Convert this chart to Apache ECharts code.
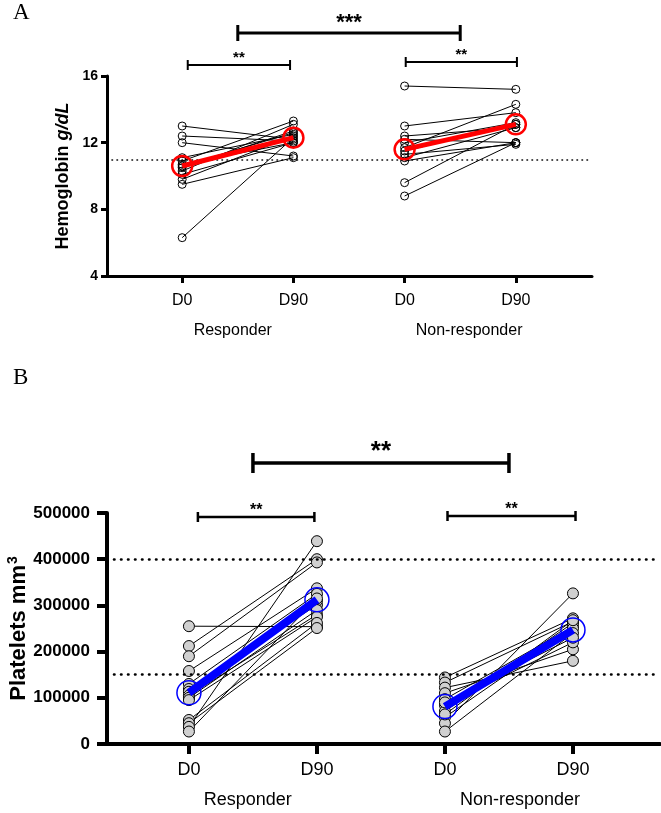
<!DOCTYPE html>
<html><head><meta charset="utf-8">
<script src="https://cdn.jsdelivr.net/npm/echarts@6/dist/echarts.min.js"></script>
<style>html,body{margin:0;padding:0;background:#fff}#c{width:661px;height:813px}</style>
</head><body><div id="c"></div>
<script>
// ---------- data ----------
const tickLabels = ['D0', 'D90', 'D0', 'D90'];
const groupLabels = ['Responder', 'Non-responder'];
const panelLetters = ['A', 'B'];

// Panel A: Hemoglobin g/dL (each index = one patient, D0 -> D90)
const hbRespD0  = [13.0, 12.4, 12.0, 11.1, 10.9, 10.7, 10.5, 10.3, 10.1, 9.8, 9.5, 6.3, 10.6];
const hbRespD90 = [12.2, 12.1, 11.2, 12.5, 13.3, 12.0, 12.7, 13.1, 12.0, 12.4, 11.1, 12.3, 12.6];
const hbNonD0   = [15.4, 13.0, 12.4, 12.2, 12.0, 11.7, 11.5, 11.3, 11.1, 10.9, 9.6, 8.8];
const hbNonD90  = [15.2, 13.8, 12.9, 12.0, 13.2, 14.3, 13.1, 11.9, 12.9, 12.0, 13.1, 12.0];
const hbMeanResp = [10.6, 12.3];
const hbMeanNon  = [11.6, 13.1];
const hbReference = [11];
const hbAxis = { min: 4, max: 16, interval: 4 };

// Panel B: Platelets mm3
const pltRespD0  = [255000, 212000, 190000, 158000, 130000, 119000, 113000, 105000, 100000, 95000, 52000, 45000, 37000, 27000];
const pltRespD90 = [254000, 400000, 393000, 337000, 325000, 301000, 310000, 280000, 290000, 275000, 262000, 251000, 439000, 315000];
const pltNonD0   = [144000, 133000, 122000, 110000, 97000, 84000, 71000, 58000, 45000, 27000, 64000, 90000];
const pltNonD90  = [272000, 265000, 180000, 205000, 254000, 220000, 262000, 250000, 326000, 240000, 268000, 230000];
const pltMeanResp = [111000, 312000];
const pltMeanNon  = [81000, 247000];
const pltReference = [150000, 400000];
const pltAxis = { min: 0, max: 500000, interval: 100000 };

// significance annotations: [fromPosition, toPosition, label]
const sigA = [[0.05, 0.97, '**'], [2.01, 3.01, '**'], [0.5, 2.5, '***']];
const sigB = [[0.07, 0.98, '**'], [2.02, 3.02, '**'], [0.5, 2.5, '**']];

// ---------- layout ----------
const FONT = '"Liberation Sans", Arial, sans-serif';
const L = {
  A: { grid: { left: 107, top: 76, width: 485, height: 200, outerBoundsMode: 'none', containLabel: false }, xMin: -0.676, xMax: 3.685,
       groupPos: [0.455, 2.58], tickFont: 16, yFont: 14, axisW: 3, tickLen: 7, tickMargin: 17, groupMargin: 47,
       sigY: [65, 62, 33], sigCap: [5, 5, 8], sigW: [2, 2, 3], sigFont: [15, 15, 22], sigTextDy: [0, 0, 1] },
  B: { grid: { left: 107, top: 513, width: 553, height: 231, outerBoundsMode: 'none', containLabel: false }, xMin: -0.64, xMax: 3.68,
       groupPos: [0.46, 2.586], tickFont: 18, yFont: 17, axisW: 4, tickLen: 10, tickMargin: 17, groupMargin: 47,
       sigY: [517, 516, 463], sigCap: [5, 5, 10], sigW: [2.5, 2.5, 3.5], sigFont: [16, 16, 26], sigTextDy: [2, 2, 2] }
};

const chart = echarts.init(document.getElementById('c'), null, { renderer: 'canvas' });

function pairSeries(d0, d90, x0, axisIdx, ptStyle, refLine) {
  return d0.map((v, i) => {
    const s = {
      type: 'line', xAxisIndex: axisIdx * 2, yAxisIndex: axisIdx,
      data: [[x0, v], [x0 + 1, d90[i]]],
      symbol: 'circle', symbolSize: ptStyle.size, showSymbol: true,
      itemStyle: { color: ptStyle.fill, borderColor: '#000', borderWidth: ptStyle.border },
      lineStyle: { color: '#000', width: 1 },
      emphasis: { disabled: true }, silent: true, animation: false, z: 2
    };
    if (refLine && i === 0) {
      s.markLine = {
        silent: true, symbol: 'none', label: { show: false }, animation: false,
        lineStyle: refLine, emphasis: { disabled: true },
        data: refLine.values.map(y => ({ yAxis: y }))
      };
    }
    return s;
  });
}
function meanSeries(m, x0, axisIdx, st) {
  return {
    type: 'line', xAxisIndex: axisIdx * 2, yAxisIndex: axisIdx,
    data: [[x0, m[0]], [x0 + 1, m[1]]],
    symbol: 'circle', symbolSize: st.size, showSymbol: true,
    itemStyle: { color: 'rgba(0,0,0,0)', borderColor: st.color, borderWidth: st.border },
    lineStyle: { color: st.color, width: st.width },
    emphasis: { disabled: true }, silent: true, animation: false, z: 5
  };
}

function xAxes(P, gi) {
  return [
    { gridIndex: gi, type: 'value', min: P.xMin, max: P.xMax,
      axisLine: { show: true, onZero: false, lineStyle: { color: '#000', width: P.axisW } },
      axisTick: { show: true, customValues: [0, 1, 2, 3], length: P.tickLen, lineStyle: { color: '#000', width: P.axisW } },
      axisLabel: { customValues: [0, 1, 2, 3], formatter: v => tickLabels[Math.round(v)], color: '#000',
                   fontFamily: FONT, fontSize: P.tickFont, margin: P.tickMargin },
      splitLine: { show: false } },
    { gridIndex: gi, type: 'value', min: P.xMin, max: P.xMax, position: 'bottom',
      axisLine: { show: false, onZero: false }, axisTick: { show: false }, splitLine: { show: false },
      axisLabel: { customValues: P.groupPos, formatter: v => groupLabels[v < 1.5 ? 0 : 1], color: '#000',
                   fontFamily: FONT, fontSize: P.tickFont, margin: P.groupMargin } }
  ];
}

const option = {
  backgroundColor: '#fff',
  animation: false,
  grid: [ Object.assign({}, L.A.grid), Object.assign({}, L.B.grid) ],
  xAxis: [...xAxes(L.A, 0), ...xAxes(L.B, 1)],
  yAxis: [
    { gridIndex: 0, type: 'value', min: hbAxis.min, max: hbAxis.max, interval: hbAxis.interval,
      axisLine: { show: true, onZero: false, lineStyle: { color: '#000', width: L.A.axisW } },
      axisTick: { show: true, length: 6, lineStyle: { color: '#000', width: L.A.axisW } },
      axisLabel: { color: '#000', fontFamily: FONT, fontWeight: 'bold', fontSize: L.A.yFont, margin: 9 },
      splitLine: { show: false },
      name: '{b|Hemoglobin }{i|g/dL}', nameLocation: 'middle', nameGap: 35, nameRotate: 90, nameMoveOverlap: false,
      nameTextStyle: { rich: {
        b: { fontFamily: FONT, fontWeight: 'bold', fontSize: 18, color: '#000' },
        i: { fontFamily: FONT, fontWeight: 'bold', fontStyle: 'italic', fontSize: 18, color: '#000' } } } },
    { gridIndex: 1, type: 'value', min: pltAxis.min, max: pltAxis.max, interval: pltAxis.interval,
      axisLine: { show: true, onZero: false, lineStyle: { color: '#000', width: L.B.axisW } },
      axisTick: { show: true, length: 10, lineStyle: { color: '#000', width: L.B.axisW } },
      axisLabel: { color: '#000', fontFamily: FONT, fontWeight: 'bold', fontSize: L.B.yFont, margin: 17,
                   formatter: v => String(v) },
      splitLine: { show: false },
      name: '{b|Platelets mm}{s|3}', nameLocation: 'middle', nameGap: 75, nameRotate: 90, nameMoveOverlap: false,
      nameTextStyle: { rich: {
        b: { fontFamily: FONT, fontWeight: 'bold', fontSize: 22, color: '#000' },
        s: { fontFamily: FONT, fontWeight: 'bold', fontSize: 14, color: '#000', verticalAlign: 'top', padding: [0, 0, 12, 1] } } } }
  ],
  series: [
    ...pairSeries(hbRespD0, hbRespD90, 0, 0, { size: 8, fill: 'rgba(255,255,255,0)', border: 1 },
      { values: hbReference, color: '#000', width: 1.6, type: [0.5, 4.5], cap: 'round' }),
    ...pairSeries(hbNonD0, hbNonD90, 2, 0, { size: 8, fill: 'rgba(255,255,255,0)', border: 1 }),
    meanSeries(hbMeanResp, 0, 0, { color: '#ff0000', size: 20, border: 2.5, width: 5 }),
    meanSeries(hbMeanNon, 2, 0, { color: '#ff0000', size: 20, border: 2.5, width: 5 }),
    ...pairSeries(pltRespD0, pltRespD90, 0, 1, { size: 11, fill: '#d0d0d0', border: 1 },
      { values: pltReference, color: '#000', width: 2.6, type: [0.5, 6.5], cap: 'round' }),
    ...pairSeries(pltNonD0, pltNonD90, 2, 1, { size: 11, fill: '#d0d0d0', border: 1 }),
    meanSeries(pltMeanResp, 0, 1, { color: '#0000ff', size: 24, border: 1.5, width: 8 }),
    meanSeries(pltMeanNon, 2, 1, { color: '#0000ff', size: 24, border: 1.5, width: 8 })
  ]
};
chart.setOption(option);

// ---------- annotations (brackets & panel letters) ----------
function brackets(sig, P, xAxisIndex) {
  const els = [];
  sig.forEach((b, k) => {
    const x1 = chart.convertToPixel({ xAxisIndex }, b[0]);
    const x2 = chart.convertToPixel({ xAxisIndex }, b[1]);
    const y = P.sigY[k], c = P.sigCap[k], w = P.sigW[k];
    const ls = { stroke: '#000', lineWidth: w };
    els.push({ type: 'line', shape: { x1, y1: y, x2, y2: y }, style: ls, silent: true });
    els.push({ type: 'line', shape: { x1, y1: y - c, x2: x1, y2: y + c }, style: ls, silent: true });
    els.push({ type: 'line', shape: { x1: x2, y1: y - c, x2, y2: y + c }, style: ls, silent: true });
    els.push({ type: 'text', silent: true, z: 10, style: {
      text: b[2], x: (x1 + x2) / 2, y: y + P.sigTextDy[k], textAlign: 'center', textVerticalAlign: 'bottom',
      fill: '#000', font: 'bold ' + P.sigFont[k] + 'px ' + FONT } });
  });
  return els;
}
const graphics = [
  ...brackets(sigA, L.A, 0),
  ...brackets(sigB, L.B, 2),
  { type: 'text', silent: true, left: 13, top: 1, style: { text: panelLetters[0], fill: '#000', font: '23px "Liberation Serif", "Times New Roman", serif' } },
  { type: 'text', silent: true, left: 13, top: 366, style: { text: panelLetters[1], fill: '#000', font: '23px "Liberation Serif", "Times New Roman", serif' } }
];
chart.setOption({ graphic: graphics });
</script>
</body></html>
